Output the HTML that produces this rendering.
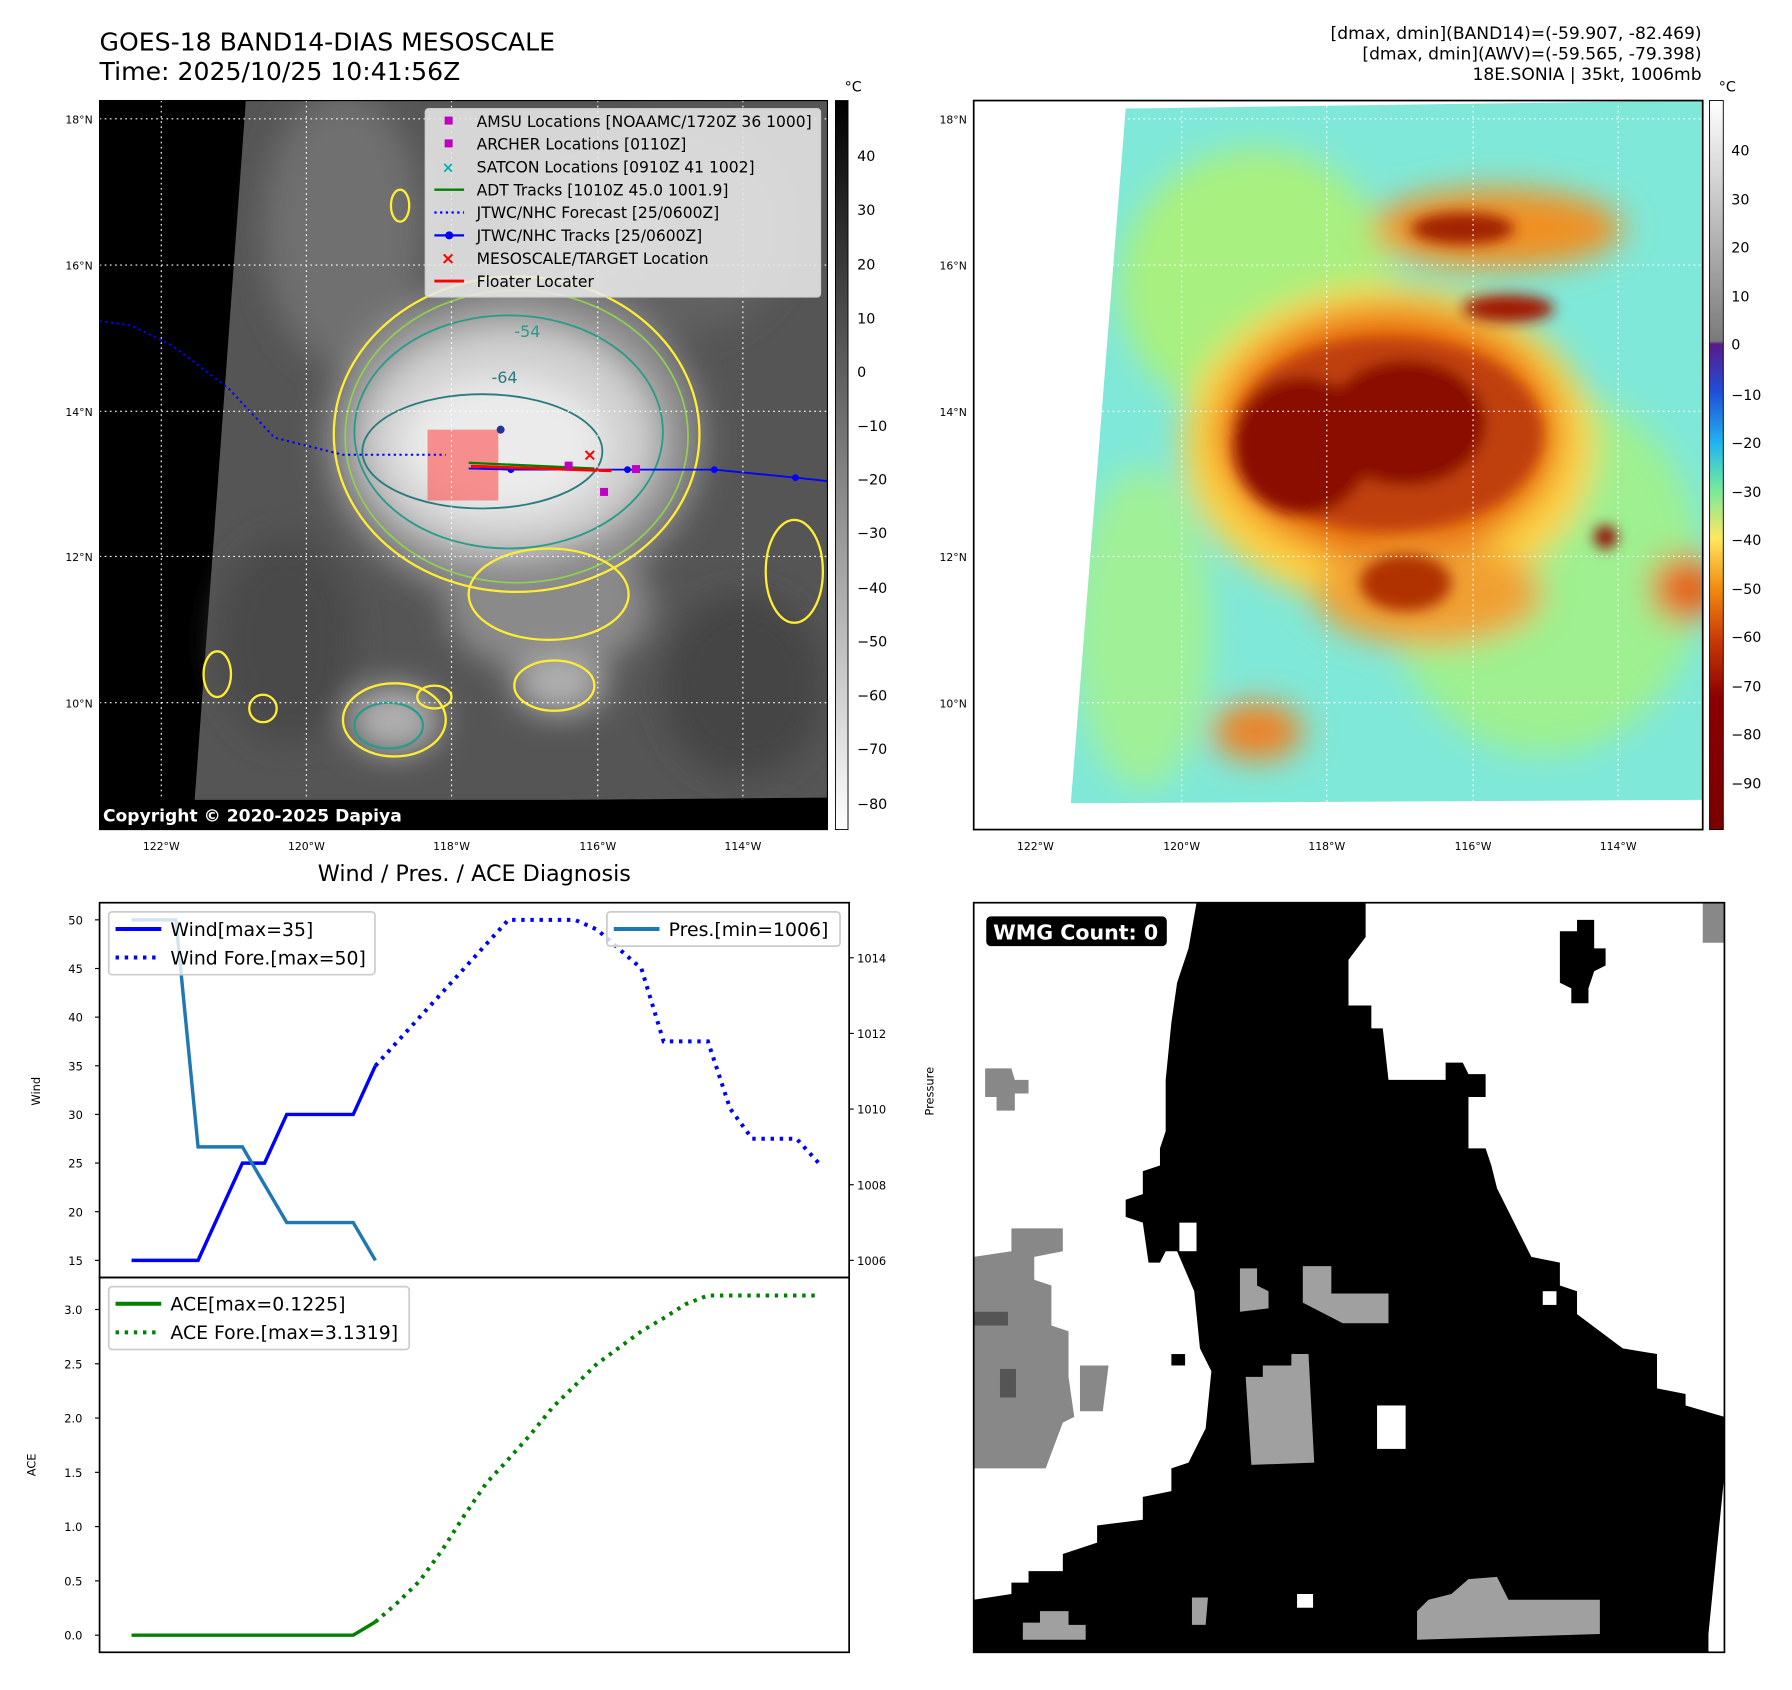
<!DOCTYPE html>
<html><head><meta charset="utf-8">
<style>
html,body{margin:0;padding:0;background:#fff;}
svg{display:block;font-family:"DejaVu Sans","Liberation Sans",sans-serif;}
</style></head>
<body>
<svg id="fig" width="1792" height="1690" viewBox="0 0 1568 1479" xmlns="http://www.w3.org/2000/svg">
<defs>
  <filter id="blur6" x="-20%" y="-20%" width="140%" height="140%"><feGaussianBlur stdDeviation="6"/></filter>
  <filter id="blur14" x="-30%" y="-30%" width="160%" height="160%"><feGaussianBlur stdDeviation="14"/></filter>
  <linearGradient id="cbGray" x1="0" y1="0" x2="0" y2="1">
    <stop offset="0" stop-color="#000"/><stop offset="1" stop-color="#fff"/>
  </linearGradient>
  <linearGradient id="cbRain" x1="0" y1="0" x2="0" y2="1">
    <stop offset="0" stop-color="#ffffff"/>
    <stop offset="0.33" stop-color="#7a7a7a"/>
    <stop offset="0.334" stop-color="#5a1a8a"/>
    <stop offset="0.40" stop-color="#1f4fd8"/>
    <stop offset="0.47" stop-color="#22b4f0"/>
    <stop offset="0.53" stop-color="#6fe8a0"/>
    <stop offset="0.60" stop-color="#ffe860"/>
    <stop offset="0.67" stop-color="#f08a10"/>
    <stop offset="0.74" stop-color="#c83a08"/>
    <stop offset="0.82" stop-color="#8a0000"/>
    <stop offset="1" stop-color="#7a0000"/>
  </linearGradient>
  <clipPath id="clipTL"><rect x="87" y="88" width="637" height="638"/></clipPath>
  <clipPath id="clipTR"><polygon points="985,95 1490,88 1490,700 937,703"/></clipPath>
</defs>

<text x="87" y="44" font-size="22">GOES-18 BAND14-DIAS MESOSCALE</text>
<text x="87" y="70" font-size="22">Time: 2025/10/25 10:41:56Z</text>
<g font-size="15" text-anchor="end">
  <text x="1489" y="34">[dmax, dmin](BAND14)=(-59.907, -82.469)</text>
  <text x="1489" y="52">[dmax, dmin](AWV)=(-59.565, -79.398)</text>
  <text x="1489" y="70">18E.SONIA | 35kt, 1006mb</text>
</g>

<g clip-path="url(#clipTL)">
  <rect x="87" y="88" width="637" height="638" fill="#000"/>
  <polygon points="215,88 724,88 724,698 170,703" fill="#555"/>
  <g filter="url(#blur14)" clip-path="url(#clipTL)">
    <ellipse cx="300" cy="200" rx="70" ry="120" fill="#707070"/>
    <ellipse cx="600" cy="200" rx="90" ry="90" fill="#626262"/>
    <ellipse cx="520" cy="190" rx="60" ry="50" fill="#7e7e7e"/>
    <ellipse cx="250" cy="560" rx="60" ry="90" fill="#484848"/>
    <ellipse cx="650" cy="600" rx="70" ry="80" fill="#444"/>
    <ellipse cx="450" cy="385" rx="165" ry="140" fill="#909090"/>
    <ellipse cx="480" cy="530" rx="90" ry="60" fill="#8a8a8a"/>
    <ellipse cx="445" cy="385" rx="130" ry="100" fill="#d0d0d0"/>
    <ellipse cx="440" cy="390" rx="90" ry="60" fill="#ebebeb"/>
    <ellipse cx="490" cy="600" rx="40" ry="25" fill="#b0b0b0"/>
    <ellipse cx="345" cy="630" rx="40" ry="30" fill="#b0b0b0"/>
  </g>
  <g fill="none" stroke-width="2">
    <ellipse cx="452" cy="380" rx="160" ry="138" stroke="#ffee33"/>
    <ellipse cx="452" cy="382" rx="150" ry="128" stroke="#90d050" stroke-width="1.5"/>
    <ellipse cx="445" cy="378" rx="135" ry="102" stroke="#2a9a8a" stroke-width="1.6"/>
    <ellipse cx="422" cy="395" rx="105" ry="50" stroke="#2a7a80" stroke-width="1.6"/>
    <ellipse cx="480" cy="520" rx="70" ry="40" stroke="#ffee33"/>
    <ellipse cx="485" cy="600" rx="35" ry="22" stroke="#ffee33"/>
    <ellipse cx="345" cy="630" rx="45" ry="32" stroke="#ffee33"/>
    <ellipse cx="340" cy="635" rx="30" ry="20" stroke="#2a9a8a"/>
    <ellipse cx="695" cy="500" rx="25" ry="45" stroke="#ffee33"/>
    <ellipse cx="380" cy="610" rx="15" ry="10" stroke="#ffee33"/>
    <ellipse cx="190" cy="590" rx="12" ry="20" stroke="#ffee33"/>
    <ellipse cx="230" cy="620" rx="12" ry="12" stroke="#ffee33"/>
    <ellipse cx="350" cy="180" rx="8" ry="14" stroke="#ffee33"/>
  </g>
  <text x="450" y="295" font-size="14" fill="#2a9a8a">-54</text>
  <text x="430" y="335" font-size="14" fill="#2a7a80">-64</text>
  <rect x="374" y="376" width="62" height="62" fill="#ff5050" opacity="0.6"/>
  <polyline points="87,281 115,285 150,302 200,340 240,383 300,398 390,398" fill="none" stroke="#0000ff" stroke-width="1.8" stroke-dasharray="2,3"/>
  <polyline points="410,410 447,411 549,411 625,411 696,418 724,421" fill="none" stroke="#0000ff" stroke-width="1.6"/>
  <g fill="#0000ff"><circle cx="447" cy="411" r="3"/><circle cx="549" cy="411" r="3"/><circle cx="625" cy="411" r="3"/><circle cx="696" cy="418" r="3"/><circle cx="438" cy="376" r="3.5" fill="#223399"/></g>
  <line x1="410" y1="405" x2="520" y2="410" stroke="#008000" stroke-width="2"/>
  <line x1="412" y1="408" x2="535" y2="412" stroke="#ff0000" stroke-width="2.5"/>
  <rect x="553" y="407" width="7" height="7" fill="#c000c0"/>
  <rect x="525" y="427" width="7" height="7" fill="#c000c0"/>
  <rect x="494" y="404" width="7" height="7" fill="#c000c0"/>
  <text x="516" y="403" font-size="15" fill="#ff0000" text-anchor="middle" font-weight="bold">×</text>
  <g stroke="#fff" stroke-width="1" stroke-dasharray="1.5,3">
    <line x1="141" y1="88" x2="141" y2="726"/><line x1="268" y1="88" x2="268" y2="726"/><line x1="395" y1="88" x2="395" y2="726"/><line x1="523" y1="88" x2="523" y2="726"/><line x1="650" y1="88" x2="650" y2="726"/>
    <line x1="87" y1="104" x2="724" y2="104"/><line x1="87" y1="232" x2="724" y2="232"/><line x1="87" y1="360" x2="724" y2="360"/><line x1="87" y1="487" x2="724" y2="487"/><line x1="87" y1="615" x2="724" y2="615"/>
  </g>
  <rect x="87" y="700" width="637" height="26" fill="#000"/>
  <text x="90" y="719" font-size="15" font-weight="bold" fill="#fff">Copyright © 2020-2025 Dapiya</text>
  <g>
    <rect x="372" y="95" width="346" height="165" rx="3" fill="#e8e8e8" fill-opacity="0.88" stroke="#ccc"/>
    <g font-size="13.6" fill="#000">
      <rect x="389" y="102" width="7" height="7" fill="#c000c0"/><text x="417" y="111">AMSU Locations [NOAAMC/1720Z 36 1000]</text>
      <rect x="389" y="122" width="7" height="7" fill="#c000c0"/><text x="417" y="131">ARCHER Locations [0110Z]</text>
      <text x="392" y="151" fill="#00b0b0" font-size="13" text-anchor="middle" font-weight="bold">×</text><text x="417" y="151">SATCON Locations [0910Z 41 1002]</text>
      <line x1="380" y1="166" x2="406" y2="166" stroke="#008000" stroke-width="2"/><text x="417" y="171">ADT Tracks [1010Z 45.0 1001.9]</text>
      <line x1="380" y1="186" x2="406" y2="186" stroke="#0000ff" stroke-width="2" stroke-dasharray="2,3"/><text x="417" y="191">JTWC/NHC Forecast [25/0600Z]</text>
      <line x1="380" y1="206" x2="406" y2="206" stroke="#0000ff" stroke-width="2"/><circle cx="393" cy="206" r="3.5" fill="#0000ff"/><text x="417" y="211">JTWC/NHC Tracks [25/0600Z]</text>
      <text x="392" y="231" fill="#ff0000" font-size="15" text-anchor="middle" font-weight="bold">×</text><text x="417" y="231">MESOSCALE/TARGET Location</text>
      <line x1="380" y1="246" x2="406" y2="246" stroke="#ff0000" stroke-width="2.5"/><text x="417" y="251">Floater Locater</text>
    </g>
  </g>
</g>
<rect x="87" y="88" width="637" height="638" fill="none" stroke="#000" stroke-width="1"/>
<g font-size="9.5" text-anchor="end">
  <text x="81" y="108">18°N</text><text x="81" y="236">16°N</text><text x="81" y="364">14°N</text><text x="81" y="491">12°N</text><text x="81" y="619">10°N</text>
</g>
<g font-size="9.5" text-anchor="middle">
  <text x="141" y="744">122°W</text><text x="268" y="744">120°W</text><text x="395" y="744">118°W</text><text x="523" y="744">116°W</text><text x="650" y="744">114°W</text>
</g>
<g>
  <rect x="731" y="88" width="11" height="638" fill="url(#cbGray)" stroke="#000" stroke-width="0.8"/>
  <text x="739" y="80" font-size="12.5">°C</text>
  <g font-size="12.5">
    <text x="750" y="141">40</text><text x="750" y="188">30</text><text x="750" y="236">20</text><text x="750" y="283">10</text><text x="750" y="330">0</text>
    <text x="750" y="377">−10</text><text x="750" y="424">−20</text><text x="750" y="471">−30</text><text x="750" y="519">−40</text><text x="750" y="566">−50</text>
    <text x="750" y="613">−60</text><text x="750" y="660">−70</text><text x="750" y="708">−80</text>
  </g>
</g>

<g>
  <rect x="852" y="88" width="638" height="638" fill="#fff"/>
  <g clip-path="url(#clipTR)">
    <rect x="852" y="88" width="638" height="638" fill="#80e8d8"/>
    <g filter="url(#blur14)">
      <ellipse cx="1100" cy="250" rx="120" ry="120" fill="#a8f080"/>
      <ellipse cx="1350" cy="500" rx="140" ry="160" fill="#9ef090"/>
      <ellipse cx="1000" cy="550" rx="60" ry="140" fill="#a0f098"/>
      <ellipse cx="1215" cy="390" rx="180" ry="140" fill="#ffd040"/>
      <ellipse cx="1215" cy="380" rx="150" ry="110" fill="#e87010"/>
      <ellipse cx="1310" cy="200" rx="110" ry="35" fill="#f09020"/>
      <ellipse cx="1250" cy="520" rx="100" ry="45" fill="#f0a030"/>
      <ellipse cx="1100" cy="640" rx="40" ry="25" fill="#f08020"/>
      <ellipse cx="1475" cy="515" rx="30" ry="30" fill="#e86010"/>
    </g>
    <g filter="url(#blur6)">
      <ellipse cx="1215" cy="380" rx="135" ry="85" fill="#c04008"/>
      <ellipse cx="1140" cy="390" rx="60" ry="60" fill="#8a0800"/>
      <ellipse cx="1230" cy="370" rx="70" ry="55" fill="#8a0800"/>
      <ellipse cx="1320" cy="270" rx="40" ry="12" fill="#a01800"/>
      <ellipse cx="1280" cy="200" rx="45" ry="14" fill="#a02000"/>
      <ellipse cx="1230" cy="510" rx="40" ry="25" fill="#b03000"/>
      <ellipse cx="1405" cy="470" rx="10" ry="10" fill="#900000"/>
    </g>
  </g>
  <g stroke="#fff" stroke-width="1" stroke-dasharray="1.5,3">
    <line x1="1034" y1="88" x2="1034" y2="726"/><line x1="1161" y1="88" x2="1161" y2="726"/><line x1="1289" y1="88" x2="1289" y2="726"/><line x1="1416" y1="88" x2="1416" y2="726"/>
    <line x1="852" y1="104" x2="1490" y2="104"/><line x1="852" y1="232" x2="1490" y2="232"/><line x1="852" y1="360" x2="1490" y2="360"/><line x1="852" y1="487" x2="1490" y2="487"/><line x1="852" y1="615" x2="1490" y2="615"/>
  </g>
  <rect x="852" y="88" width="638" height="638" fill="none" stroke="#000" stroke-width="1.5"/>
</g>
<g font-size="9.5" text-anchor="end">
  <text x="846" y="108">18°N</text><text x="846" y="236">16°N</text><text x="846" y="364">14°N</text><text x="846" y="491">12°N</text><text x="846" y="619">10°N</text>
</g>
<g font-size="9.5" text-anchor="middle">
  <text x="906" y="744">122°W</text><text x="1034" y="744">120°W</text><text x="1161" y="744">118°W</text><text x="1289" y="744">116°W</text><text x="1416" y="744">114°W</text>
</g>
<g>
  <rect x="1496" y="88" width="12" height="638" fill="url(#cbRain)" stroke="#000" stroke-width="0.8"/>
  <text x="1504" y="80" font-size="12.5">°C</text>
  <g font-size="12.5">
    <text x="1515" y="136">40</text><text x="1515" y="179">30</text><text x="1515" y="221">20</text><text x="1515" y="264">10</text><text x="1515" y="306">0</text>
    <text x="1515" y="350">−10</text><text x="1515" y="392">−20</text><text x="1515" y="435">−30</text><text x="1515" y="477">−40</text><text x="1515" y="520">−50</text>
    <text x="1515" y="562">−60</text><text x="1515" y="605">−70</text><text x="1515" y="647">−80</text><text x="1515" y="690">−90</text>
  </g>
</g>

<text x="415" y="771" font-size="19.5" text-anchor="middle">Wind / Pres. / ACE Diagnosis</text>
<g id="chart"></g>

<g>
  <rect x="852" y="790" width="657" height="656" fill="#fff"/>
  <polygon fill="#000" points="1047,790 1195,790 1195,820 1180,840 1180,880 1200,880 1200,900 1210,900 1215,945 1265,945 1265,930 1280,930 1285,940 1300,940 1300,960 1285,960 1285,1005 1300,1005 1305,1020 1310,1040 1320,1060 1330,1080 1340,1100 1365,1105 1365,1125 1380,1130 1380,1150 1400,1165 1420,1180 1450,1185 1450,1215 1475,1220 1475,1230 1509,1240 1509,1290 1495,1430 1495,1446 852,1446 852,1400 885,1395 885,1385 900,1385 900,1375 930,1375 930,1360 960,1350 960,1335 1000,1330 1000,1310 1025,1305 1025,1285 1040,1280 1055,1250 1060,1200 1050,1180 1045,1130 1030,1095 1020,1095 1015,1105 1005,1105 1000,1070 985,1065 985,1050 1000,1045 1000,1025 1015,1020 1015,1005 1020,990 1020,945 1025,895 1030,860 1040,830"/>
  <polygon fill="#000" points="1365,815 1380,815 1380,805 1395,805 1395,830 1405,830 1405,845 1395,850 1390,865 1390,878 1375,878 1375,865 1365,860"/>
  <rect x="1032" y="1070" width="15" height="25" fill="#fff"/>
  <rect x="1205" y="1230" width="25" height="38" fill="#fff"/>
  <rect x="1350" y="1130" width="12" height="12" fill="#fff"/>
  <rect x="1025" y="1185" width="12" height="10" fill="#000"/>
  <rect x="1135" y="1395" width="14" height="12" fill="#fff"/>
  <g fill="#888">
    <polygon points="852,1100 885,1095 885,1075 930,1075 930,1095 905,1100 905,1120 920,1125 920,1160 935,1165 935,1205 940,1240 930,1245 915,1285 852,1285"/>
    <polygon points="862,935 885,935 888,945 900,945 900,957 888,957 888,972 872,972 872,960 862,960"/>
    <polygon points="1490,790 1509,790 1509,825 1490,825"/>
    <polygon points="945,1195 970,1195 965,1235 945,1235"/>
  </g>
  <g fill="#a0a0a0">
    <polygon points="1085,1110 1100,1110 1100,1125 1110,1130 1110,1145 1085,1148"/>
    <polygon points="1140,1108 1165,1108 1165,1132 1215,1132 1215,1158 1175,1158 1140,1140"/>
    <polygon points="1090,1205 1105,1205 1105,1195 1130,1195 1130,1185 1145,1185 1150,1280 1095,1282"/>
    <polygon points="1240,1410 1250,1400 1270,1395 1285,1382 1310,1380 1320,1400 1400,1400 1400,1430 1240,1435"/>
    <polygon points="895,1420 910,1420 910,1410 935,1410 935,1422 950,1422 950,1435 895,1435"/>
    <polygon points="1043,1398 1057,1398 1055,1422 1043,1422"/>
  </g>
  <g fill="#555"><rect x="852" y="1148" width="30" height="12"/><rect x="875" y="1198" width="14" height="25"/></g>
  <rect x="852" y="790" width="657" height="656" fill="none" stroke="#000" stroke-width="1.5"/>
  <rect x="863" y="802" width="158" height="26" rx="4" fill="#000"/>
  <text x="869" y="822" font-size="18" font-weight="bold" fill="#fff">WMG Count: 0</text>
</g>

<script>
const obsIdx = [0,1,2,3,4,5,6,7,8,9,10,11];
const windObs = [15,15,15,15,20,25,25,30,30,30,30,35];
const presObs = [1015,1015,1015,1009,1009,1009,1008,1007,1007,1007,1007,1006];
const aceObs = [0,0,0,0,0,0,0,0,0,0,0,0.1225];
const foreIdx = [11,12,13,14,15,16,17,18,19,20,21,22,23,24,25,26,27,28,29,30,31];
const windFore = [35,37.5,40,42.5,45,47.5,50,50,50,50,49,47,45,37.5,37.5,37.5,30.6,27.5,27.5,27.5,25];
const aceFore = [0.1225,0.3,0.5,0.78,1.1,1.4,1.62,1.85,2.1,2.3,2.5,2.65,2.8,2.92,3.05,3.13,3.13,3.13,3.13,3.13,3.13];
const windTicks = [15,20,25,30,35,40,45,50];
const presTicks = [1006,1008,1010,1012,1014];
const aceTicks = [0.0,0.5,1.0,1.5,2.0,2.5,3.0];

const NS = 'http://www.w3.org/2000/svg';
const g = document.getElementById('chart');
const X = i => 115 + i * 19.4;
const Yw = v => 1103 - (v - 15) * 8.514;
const Yp = v => 1103 - (v - 1006) * 33.1;
const Ya = v => 1431 - v * 95;

function mk(tag, attrs, parent) {
  const e = document.createElementNS(NS, tag);
  for (const k in attrs) e.setAttribute(k, attrs[k]);
  (parent || g).appendChild(e);
  return e;
}
function poly(idx, vals, Y, color, w, dash, name) {
  const pts = idx.map((i, k) => X(i).toFixed(1) + ',' + Y(vals[k]).toFixed(1)).join(' ');
  const p = mk('polyline', {points: pts, fill: 'none', stroke: color, 'stroke-width': w});
  if (dash) p.setAttribute('stroke-dasharray', dash);
  
  
}

const f1 = mk('rect', {x: 87, y: 790, width: 656, height: 328, fill: 'none', stroke: '#000', 'stroke-width': 1.5});


const f2 = mk('rect', {x: 87, y: 1118, width: 656, height: 328, fill: 'none', stroke: '#000', 'stroke-width': 1.5});



windTicks.forEach(v => {
  mk('line', {x1: 83, x2: 87, y1: Yw(v), y2: Yw(v), stroke: '#000'});
  const t = mk('text', {x: 66, y: Yw(v) + 4, 'font-size': 10, 'text-anchor': 'middle'});
  t.textContent = v;
  
  
});
presTicks.forEach(v => {
  mk('line', {x1: 743, x2: 747, y1: Yp(v), y2: Yp(v), stroke: '#000'});
  const t = mk('text', {x: 750, y: Yp(v) + 4, 'font-size': 10});
  t.textContent = v;
  
  
});
aceTicks.forEach(v => {
  mk('line', {x1: 83, x2: 87, y1: Ya(v), y2: Ya(v), stroke: '#000'});
  const t = mk('text', {x: 64, y: Ya(v) + 4, 'font-size': 10, 'text-anchor': 'middle'});
  t.textContent = v.toFixed(1);
  
  
});
const yl1 = mk('text', {x: 35, y: 955, 'font-size': 10, 'text-anchor': 'middle', transform: 'rotate(-90 35 955)'});
yl1.textContent = 'Wind';


const yl2 = mk('text', {x: 817, y: 955, 'font-size': 10, 'text-anchor': 'middle', transform: 'rotate(-90 817 955)'});
yl2.textContent = 'Pressure';


const yl3 = mk('text', {x: 31, y: 1282, 'font-size': 10, 'text-anchor': 'middle', transform: 'rotate(-90 31 1282)'});
yl3.textContent = 'ACE';



poly(obsIdx, windObs, Yw, '#0000ff', 3, null, 'wind-line');
poly(foreIdx, windFore, Yw, '#0000ff', 3.5, '3,5', 'wind-forecast-line');
poly(obsIdx, presObs, Yp, '#1f77b4', 3, null, 'pressure-line');
poly(obsIdx, aceObs, Ya, '#008000', 3, null, 'ace-line');
poly(foreIdx, aceFore, Ya, '#008000', 3.5, '3,5', 'ace-forecast-line');

function legend(x, y, w, h, items, name) {
  const lg = mk('g', {});
  
  
  mk('rect', {x: x, y: y, width: w, height: h, rx: 3, fill: '#fff', 'fill-opacity': 0.8, stroke: '#ccc', 'stroke-width': 1.5}, lg);
  items.forEach((it, k) => {
    const cy = y + 15 + k * 25;
    const l = mk('line', {x1: x + 6, x2: x + 46, y1: cy, y2: cy, stroke: it.c, 'stroke-width': 3.5}, lg);
    if (it.d) l.setAttribute('stroke-dasharray', '3,5');
    const t = mk('text', {x: x + 54, y: cy + 6, 'font-size': 16.5}, lg);
    t.textContent = it.t;
  });
}
legend(95, 798, 233, 55, [{c: '#0000ff', t: 'Wind[max=35]'}, {c: '#0000ff', t: 'Wind Fore.[max=50]', d: 1}], 'wind-legend');
legend(531, 798, 204, 30, [{c: '#1f77b4', t: 'Pres.[min=1006]'}], 'pressure-legend');
legend(95, 1126, 263, 55, [{c: '#008000', t: 'ACE[max=0.1225]'}, {c: '#008000', t: 'ACE Fore.[max=3.1319]', d: 1}], 'ace-legend');
</script>
</svg>
</body></html>
